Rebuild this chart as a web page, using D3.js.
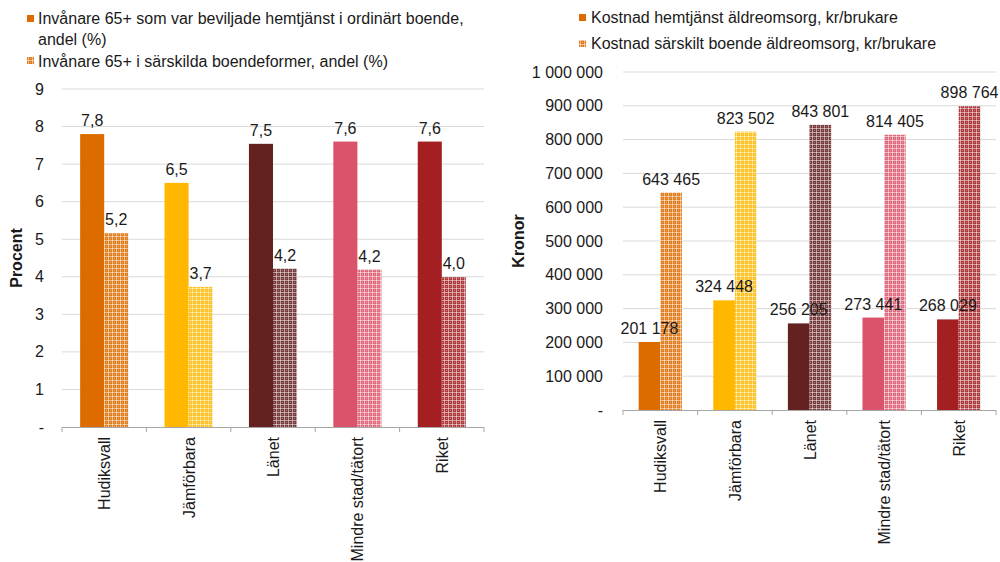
<!DOCTYPE html>
<html><head><meta charset="utf-8">
<script src="https://cdn.jsdelivr.net/npm/d3@7"></script>
<style>body{margin:0;background:#fff}svg{font-family:"Liberation Sans",Arial,sans-serif}</style>
</head><body><svg id="c" width="1000" height="562"></svg>
<script>
const categories = ["Hudiksvall","Jämförbara","Länet","Mindre stad/tätort","Riket"];
const colors = ["#dc6b00","#ffb700","#632120","#db536b","#a31f22"];
const leftSeries1 = [7.8, 6.5, 7.54, 7.6, 7.6];
const leftSeries2 = [5.16, 3.73, 4.22, 4.19, 3.99];
const leftTicks = [0,1,2,3,4,5,6,7,8,9];
const rightSeries1 = [201178, 324448, 256205, 273441, 268029];
const rightSeries2 = [643465, 823502, 843801, 814405, 898764];
const rightTicks = [0,100000,200000,300000,400000,500000,600000,700000,800000,900000,1000000];
const leftLegend = [["Invånare 65+ som var beviljade hemtjänst i ordinärt boende,","andel (%)"],["Invånare 65+ i särskilda boendeformer, andel (%)"]];
const rightLegend = ["Kostnad hemtjänst äldreomsorg, kr/brukare","Kostnad särskilt boende äldreomsorg, kr/brukare"];

const svg = d3.select("#c");
const loc = d3.formatLocale({decimal:",",thousands:"\u00a0",grouping:[3],currency:["",""]});
const fmt1 = loc.format(".1f");
const fmtK = loc.format(",d");

const defs = svg.append("defs");
colors.forEach((c,i)=>{
  const p = defs.append("pattern").attr("id","pat"+i).attr("patternUnits","userSpaceOnUse")
    .attr("width",4).attr("height",4);
  p.append("rect").attr("width",4).attr("height",4).attr("fill",c);
  p.append("rect").attr("width",4).attr("height",4).attr("fill","#fff").attr("opacity",0.12);
  p.append("rect").attr("x",0).attr("y",0).attr("width",4).attr("height",1).attr("fill","#fff").attr("opacity",0.5);
  p.append("rect").attr("x",0).attr("y",0).attr("width",1).attr("height",4).attr("fill","#fff").attr("opacity",0.5);
  p.append("rect").attr("x",2).attr("y",2).attr("width",1).attr("height",1).attr("fill","#fff").attr("opacity",0.35);
});

function drawChart(o){
  const g = svg.append("g");
  const x = d3.scaleBand().domain(categories).range([o.x0,o.x1]).paddingInner(0).paddingOuter(0);
  const y = d3.scaleLinear().domain(o.domain).range([o.y0,o.y1]);
  g.selectAll(".grid").data(o.ticks.slice(1)).join("line")
    .attr("x1",o.x0).attr("x2",o.x1).attr("y1",d=>y(d)).attr("y2",d=>y(d))
    .attr("stroke","#d9d9d9").attr("stroke-width",1);
  g.selectAll(".yl").data(o.ticks).join("text")
    .attr("x",o.ylx).attr("y",d=>y(d)).attr("dy","0.35em").attr("text-anchor","end")
    .attr("font-size",o.fs).attr("fill","#1a1a1a").text(d=>d===0?"-":o.tf(d));
  const bw = x.bandwidth()*o.barFrac;
  categories.forEach((c,i)=>{
    const cx = x(c)+x.bandwidth()/2;
    const v1=o.s1[i], v2=o.s2[i];
    g.append("rect").attr("x",cx-bw).attr("y",y(v1)).attr("width",bw).attr("height",y(0)-y(v1)).attr("fill",colors[i]);
    g.append("rect").attr("x",cx).attr("y",y(v2)).attr("width",bw).attr("height",y(0)-y(v2)).attr("fill","url(#pat"+i+")");
    g.append("text").attr("x",cx-bw/2).attr("y",y(v1)-o.lo).attr("text-anchor","middle").attr("font-size",o.lfs).attr("fill","#1a1a1a").text(o.lf(v1));
    g.append("text").attr("x",cx+bw/2).attr("y",y(v2)-o.lo).attr("text-anchor","middle").attr("font-size",o.lfs).attr("fill","#1a1a1a").text(o.lf(v2));
    g.append("text").attr("transform",`translate(${cx+6},${o.y0+10}) rotate(-90)`).attr("text-anchor","end")
      .attr("font-size",o.fs).attr("fill","#1a1a1a").text(c);
  });
  g.append("line").attr("x1",o.x0).attr("x2",o.x1).attr("y1",y(0)+0.5).attr("y2",y(0)+0.5).attr("stroke","#a6a6a6");
  const bounds = categories.map(c=>x(c)).concat([o.x1]);
  g.selectAll(".tk").data(bounds).join("line").attr("x1",d=>d).attr("x2",d=>d)
    .attr("y1",y(0)).attr("y2",y(0)+5).attr("stroke","#a6a6a6");
  g.append("text").attr("transform",`translate(${o.tx},${(o.y0+o.y1)/2}) rotate(-90)`).attr("text-anchor","middle")
    .attr("font-size",o.fs).attr("font-weight","bold").attr("fill","#1a1a1a").text(o.title);
}

drawChart({x0:62,x1:484,y0:427,y1:89,domain:[0,9],ticks:leftTicks,s1:leftSeries1,s2:leftSeries2,
  tf:d=>d, lf:fmt1, ylx:44, fs:16, lfs:16, lo:8, barFrac:0.285, title:"Procent", tx:22});
drawChart({x0:623,x1:996,y0:410,y1:72,domain:[0,1000000],ticks:rightTicks,s1:rightSeries1,s2:rightSeries2,
  tf:fmtK, lf:fmtK, ylx:603, fs:16, lfs:16, lo:8, barFrac:0.29, title:"Kronor", tx:524});

const lg = svg.append("g").attr("font-size",16).attr("fill","#1a1a1a");
lg.append("rect").attr("x",27).attr("y",15).attr("width",7).attr("height",7).attr("fill",colors[0]);
lg.append("text").attr("x",38).attr("y",24).text(leftLegend[0][0]);
lg.append("text").attr("x",38).attr("y",45).text(leftLegend[0][1]);
lg.append("rect").attr("x",27).attr("y",57).attr("width",7).attr("height",7).attr("fill","url(#pat0)");
lg.append("text").attr("x",38).attr("y",67).text(leftLegend[1][0]);
lg.append("rect").attr("x",579).attr("y",14).attr("width",7).attr("height",7).attr("fill",colors[0]);
lg.append("text").attr("x",591).attr("y",23).text(rightLegend[0]);
lg.append("rect").attr("x",579).attr("y",40).attr("width",7).attr("height",7).attr("fill","url(#pat0)");
lg.append("text").attr("x",591).attr("y",49).text(rightLegend[1]);
</script></body></html>
